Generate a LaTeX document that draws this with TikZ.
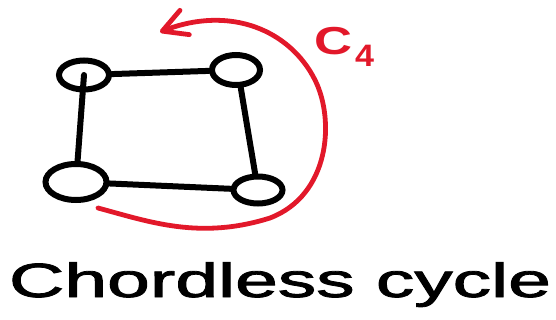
\documentclass[tikz,border=0pt]{standalone}
\usepackage{fontspec}
\usepackage{graphicx}
\setmainfont{Liberation Sans}
\newfontfamily\handfont[FakeBold=1.6]{Liberation Sans}
\usetikzlibrary{shapes.geometric,arrows.meta}
\definecolor{inkred}{RGB}{226,24,42}
\tikzset{
  vtx/.style={ellipse, draw=black, line width=6pt, inner sep=0pt},
  edge/.style={draw=black, line width=6pt, line cap=round},
  redcurve/.style={draw=inkred, line width=4.8pt, line cap=round,
    -{Straight Barb[length=24pt,width=26pt,line width=4.8pt,round]}},
}
\begin{document}
\begin{tikzpicture}[x=1pt,y=-1pt]
\useasboundingbox (0,0) rectangle (556,320);
\node[vtx, minimum width=50pt, minimum height=29pt] (tl) at (84,75) {};
\node[vtx, minimum width=48pt, minimum height=30pt] (tr) at (236,70) {};
\node[vtx, minimum width=61pt, minimum height=36pt] (bl) at (76,182) {};
\node[vtx, minimum width=49pt, minimum height=27pt] (br) at (258,190) {};
\draw[edge] (tl) -- (tr);
\draw[edge] (tl.center) -- (bl);
\draw[edge] (tr.-75) -- (br.100);
\draw[edge] (bl) -- (br);
\coordinate (cs) at (98,208);
\coordinate (ce) at (160,32);
\draw[redcurve] (cs) .. controls (150,222) and (200,240) .. (270,218)
  .. controls (330,195) and (335,120) .. (315,80)
  .. controls (290,30) and (230,5) .. (ce);
\node[text=inkred, anchor=base west, inner sep=0pt] (c4) at (314,55)
  {\scalebox{1.35}[1]{\fontsize{39}{39}\selectfont\bfseries C}\hspace{3pt}\raisebox{-12pt}{\scalebox{1.1}[1]{\fontsize{31}{31}\selectfont\bfseries 4}}};
\node[anchor=base, inner sep=0pt] (title) at (280,297)
  {\scalebox{1.6}[1]{\fontsize{48}{48}\handfont Chordless cycle}};
\end{tikzpicture}
\end{document}
